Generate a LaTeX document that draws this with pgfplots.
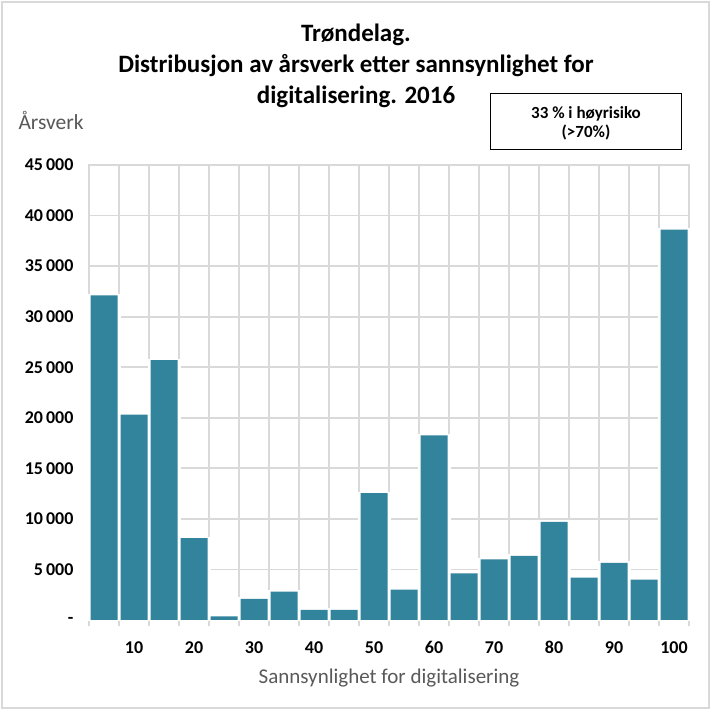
\documentclass[border=0pt]{standalone}
\usepackage{pgfplots}
\pgfplotsset{compat=1.18}
\usepackage{fontspec}
\setmainfont{Carlito}
\definecolor{barc}{HTML}{31849B}
\definecolor{gridc}{HTML}{D9D9D9}
\definecolor{labc}{HTML}{595959}
\pgfplotstableread{
x y
1 32100
2 20300
3 25700
4 8100
5 350
6 2100
7 2800
8 1000
9 1000
10 12550
11 3000
12 18250
13 4600
14 6000
15 6350
16 9700
17 4200
18 5650
19 4000
20 38600
}\datatable
\begin{document}
\begin{tikzpicture}[x=1pt,y=1pt]
\useasboundingbox (0,0) rectangle (712,711);
\fill[white] (0,0) rectangle (712,711);
\draw[gridc, line width=2.5pt] (2,3) rectangle (709,709);
\begin{axis}[
  at={(89pt,91pt)}, anchor=south west,
  scale only axis, width=600pt, height=455pt,
  xmin=0.5, xmax=20.5, ymin=0, ymax=45000,
  ybar, bar shift=0pt,
  axis line style={draw=gridc, line width=1.8pt},
  xtick={2,4,...,20},
  xticklabels={10,20,30,40,50,60,70,80,90,100},
  minor xtick={0.5,1.5,...,20.5},
  xtick pos=bottom, ytick pos=left,
  xminorgrids,
  minor grid style={draw=gridc, line width=1.8pt},
  minor tick length=6pt,
  major tick length=0pt,
  tick align=outside,
  minor x tick style={draw=gridc, line width=1.5pt},
  ytick={0,5000,...,45000},
  yticklabels={-,5\,000,10\,000,15\,000,20\,000,25\,000,30\,000,35\,000,40\,000,45\,000},
  ymajorgrids,
  major grid style={draw=gridc, line width=1.8pt},
  tick label style={font=\fontsize{18}{18}\selectfont\bfseries},
  yticklabel style={xshift=-12pt},
  xticklabel style={yshift=-18pt},
  xlabel={Sannsynlighet for digitalisering},
  xlabel style={font=\fontsize{21}{22}\selectfont, text=labc, yshift=-8pt},
  scaled y ticks=false,
  clip=false,
]
\addplot[fill=white, draw=white, line width=3pt, bar width=1] table[x=x,y=y]{\datatable};
\addplot[fill=barc, draw=none, bar width=0.9] table[x=x,y=y]{\datatable};
\end{axis}
\node[align=center, font=\fontsize{25}{31}\selectfont\bfseries] at (356,645) {Trøndelag.\\Distribusjon av årsverk etter sannsynlighet for\\digitalisering. 2016};
\node[anchor=west, font=\fontsize{21.5}{22}\selectfont, text=labc] at (15,591) {Årsverk};
\draw[black, line width=1pt] (490.5,561) rectangle (681,617);
\node[align=center, font=\fontsize{17}{19}\selectfont\bfseries] at (586,588) {33 \% i høyrisiko\\(>70\%)};
\end{tikzpicture}
\end{document}
